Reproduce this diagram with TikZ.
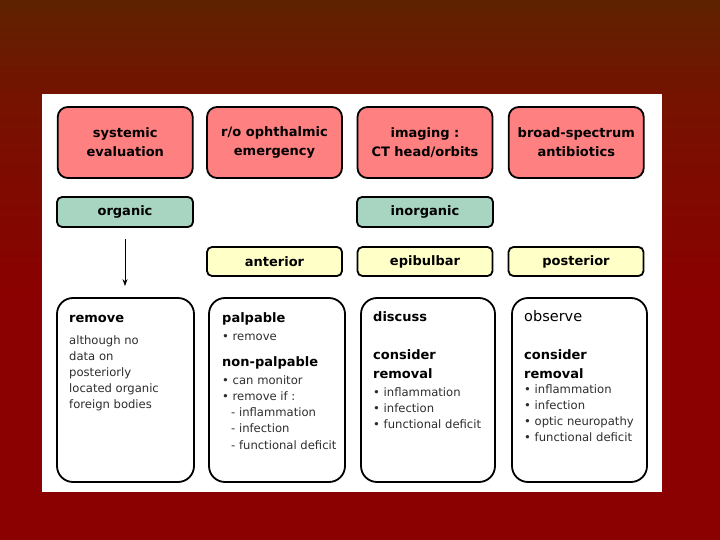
\documentclass[tikz,border=0pt]{standalone}
\usepackage{fontspec}
\setmainfont{DejaVu Sans}
\usetikzlibrary{arrows.meta}
\definecolor{bgtop}{RGB}{94,34,0}
\definecolor{bgmid}{RGB}{118,18,0}
\definecolor{bgbot}{RGB}{139,0,0}
\definecolor{redfill}{RGB}{255,128,128}
\definecolor{greenfill}{RGB}{168,212,194}
\definecolor{yellowfill}{RGB}{255,255,200}
\definecolor{bodygray}{RGB}{45,45,45}
\tikzset{
  redbox/.style={draw=black, fill=redfill, line width=1.8pt, rounded corners=10pt,
    minimum width=135pt, minimum height=71pt, inner sep=0pt, align=center,
    font=\bfseries\fontsize{13}{19}\selectfont},
  greenbox/.style={draw=black, fill=greenfill, line width=1.8pt, rounded corners=5pt,
    minimum width=136pt, minimum height=30pt, inner sep=0pt,
    font=\bfseries\fontsize{13}{16}\selectfont},
  yellowbox/.style={draw=black, fill=yellowfill, line width=1.8pt, rounded corners=5pt,
    minimum width=135pt, minimum height=29pt, inner sep=0pt,
    font=\bfseries\fontsize{13}{16}\selectfont},
  whitebox/.style={draw=black, fill=white, line width=1.8pt, rounded corners=16pt,
    minimum width=135pt, minimum height=184pt, inner sep=0pt},
  head/.style={anchor=base west, inner sep=0pt, font=\bfseries\fontsize{13}{16}\selectfont},
  headlight/.style={anchor=base west, inner sep=0pt, font=\fontsize{14.5}{16}\selectfont},
  body/.style={anchor=base west, inner sep=0pt, text=bodygray, font=\fontsize{11.6}{14}\selectfont},
}
\begin{document}
\begin{tikzpicture}[x=1pt,y=-1pt]
\useasboundingbox (0,0) rectangle (720,540);
% background
\shade[top color=bgtop, bottom color=bgmid] (0,0) rectangle (720,100);
\shade[top color=bgmid, bottom color=bgbot] (0,100) rectangle (720,300);
\fill[bgbot] (0,300) rectangle (720,540);
% white panel
\fill[white] (42,94) rectangle (662,492);
% top row
\node[redbox] (sys) at (125.25,142.5) {systemic\\evaluation};
\node[redbox] (ro) at (274.5,142.5) {r/o ophthalmic\\emergency};
\node[redbox] (img) at (425,142.5) {imaging :\\CT head/orbits};
\node[redbox] (abx) at (576.25,142.5) {broad-spectrum\\antibiotics};
% second row
\node[greenbox] (org) at (125,212) {organic};
\node[greenbox] (inorg) at (425,212) {inorganic};
% third row
\node[yellowbox] (ant) at (274.5,261.5) {anterior};
\node[yellowbox] (epi) at (425,261.5) {epibulbar};
\node[yellowbox] (post) at (576,261.5) {posterior};
% bottom boxes
\node[whitebox, minimum width=137pt] (w1) at (125.5,390) {};
\node[whitebox, minimum width=136pt] (w2) at (277,390) {};
\node[whitebox, minimum width=134pt] (w3) at (428,390) {};
\node[whitebox, minimum width=135pt] (w4) at (579.5,390) {};
% arrow
\draw[line width=1pt, -{Stealth[length=7pt,width=5pt]}, shorten <=11pt, shorten >=11pt] (org.south) -- (org.south |- w1.north);
% box 1 text
\node[head] (a1) at (69,322) {remove};
\node[body] (a2) at (69,344.5) {although no};
\node[body] (a3) at (69,360.5) {data on};
\node[body] (a4) at (69,376.5) {posteriorly};
\node[body] (a5) at (69,392.5) {located organic};
\node[body] (a6) at (69,408.5) {foreign bodies};
% box 2 text
\node[head] (b1) at (222,322) {palpable};
\node[body] (b2) at (222,340.5) {• remove};
\node[head] (b3) at (222,366) {non-palpable};
\node[body] (b4) at (222,384.5) {• can monitor};
\node[body] (b5) at (222,400.5) {• remove if :};
\node[body] (b6) at (231,416.5) {- inflammation};
\node[body] (b7) at (231,432.5) {- infection};
\node[body] (b8) at (231,449.5) {- functional deficit};
% box 3 text
\node[head] (c1) at (373,321) {discuss};
\node[head] (c2) at (373,359) {consider};
\node[head] (c3) at (373,378) {removal};
\node[body] (c4) at (373,396.5) {• inflammation};
\node[body] (c5) at (373,412.5) {• infection};
\node[body] (c6) at (373,428.5) {• functional deficit};
% box 4 text
\node[headlight] (d1) at (524,321) {observe};
\node[head] (d2) at (524,359) {consider};
\node[head] (d3) at (524,378) {removal};
\node[body] (d4) at (524,393.5) {• inflammation};
\node[body] (d5) at (524,409.5) {• infection};
\node[body] (d6) at (524,425.5) {• optic neuropathy};
\node[body] (d7) at (524,441.5) {• functional deficit};
\end{tikzpicture}
\end{document}
